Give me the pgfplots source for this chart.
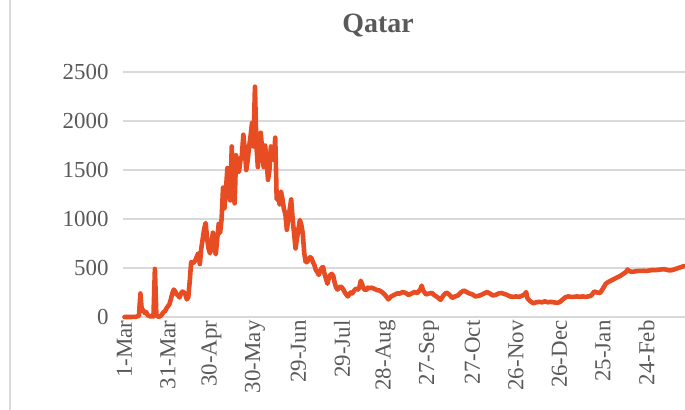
\documentclass[border=0pt]{standalone}
\usepackage{fontspec}
\setmainfont{Liberation Serif}
\usepackage{pgfplots}
\pgfplotsset{compat=1.18}
\usepackage{pgfplotstable}
\definecolor{txtc}{HTML}{595959}
\definecolor{gridc}{HTML}{D9D9D9}
\definecolor{qline}{RGB}{232,76,34}
\pgfplotstableread{
day val
0 0
2 0
4 0
6 1
8 2
10 12
11 240
12 60
13 70
14 40
15 50
16 20
17 10
18 5
19 10
20 5
21 490
22 20
23 5
24 5
25 10
26 30
27 50
28 60
29 90
30 110
31 130
32 180
33 240
34 280
35 260
36 230
37 220
38 200
39 240
40 260
41 250
42 230
43 180
44 200
45 360
46 560
47 550
48 560
49 580
50 620
51 650
52 540
53 700
54 800
55 900
56 960
57 800
58 700
59 650
60 750
61 860
62 700
63 640
64 800
65 950
66 860
67 1000
68 1320
69 1110
70 1300
71 1520
72 1350
73 1190
74 1740
75 1300
76 1160
77 1650
78 1550
79 1480
80 1600
81 1650
82 1860
83 1700
84 1500
85 1600
86 1740
87 1850
88 1980
89 1740
90 2350
91 1750
92 1530
93 1700
94 1880
95 1700
96 1530
97 1750
98 1600
99 1400
100 1500
101 1740
102 1650
103 1600
104 1830
105 1200
106 1250
107 1150
108 1280
109 1200
110 1100
111 1050
112 890
113 1000
114 1100
115 1200
116 1000
117 850
118 700
119 800
120 900
121 990
122 940
123 850
124 650
125 560
126 560
127 590
128 610
129 600
130 560
131 530
132 480
133 460
134 430
135 470
136 500
137 510
138 440
139 390
140 340
141 400
142 430
143 440
144 420
145 350
146 300
147 280
148 300
149 310
150 300
151 280
152 250
153 230
154 210
155 230
156 250
157 240
158 260
159 280
160 290
161 280
162 300
163 370
164 330
165 290
166 275
167 280
168 300
169 290
170 300
172 290
174 275
176 270
178 250
180 220
182 180
184 210
186 225
188 240
190 240
192 255
194 245
196 225
198 240
200 255
202 245
204 280
205 320
206 270
208 230
210 240
212 245
214 220
216 200
218 175
220 220
222 250
224 230
226 195
228 210
230 220
232 250
234 270
236 255
238 240
240 230
242 210
244 215
246 225
248 240
250 255
252 240
254 220
256 225
258 240
260 245
262 235
264 225
266 210
268 205
270 210
272 205
274 215
276 230
277 255
278 190
280 160
282 140
284 150
286 155
288 150
290 160
292 150
294 155
296 150
298 145
300 150
302 175
304 200
306 210
308 205
310 205
312 210
314 205
316 210
318 205
320 210
322 220
324 260
326 250
328 245
330 290
332 340
334 360
336 375
338 390
340 405
342 420
344 440
346 460
347 485
348 470
350 460
352 465
354 470
356 470
358 472
360 470
362 475
364 480
366 478
368 482
370 485
372 488
374 482
376 475
378 480
380 490
382 500
384 510
386 520
}\qdata
\begin{document}
\begin{tikzpicture}
\begin{axis}[
  scale only axis,
  width=562bp, height=245bp,
  xmin=-1, xmax=386.6,
  ymin=0, ymax=2500,
  clip=false,
  axis line style={draw=none},
  major tick length=0pt,
  xtick style={draw=none}, ytick style={draw=none},
  ytick={0,500,...,2500},
  xtick={0,30,...,360},
  xticklabels={1-Mar,31-Mar,30-Apr,30-May,29-Jun,29-Jul,28-Aug,27-Sep,27-Oct,26-Nov,26-Dec,25-Jan,24-Feb},
  xmajorgrids=false,
  ymajorgrids=true,
  major grid style={draw=gridc, line width=1.5bp},
  /pgf/number format/1000 sep={},
  /pgf/number format/assume math mode=true,
  tick label style={font=\fontsize{23}{27}\selectfont, text=txtc},
  xticklabel style={rotate=90, anchor=east},
  yticklabel style={xshift=-11bp},
]
\addplot[qline, line width=4.6bp, line join=round, line cap=round, mark=none] table[x=day, y=val] {\qdata};
\end{axis}
\node[anchor=base, text=txtc, font=\fontsize{28}{32}\selectfont\bfseries] at (255bp,284bp) {Qatar};
\draw[gridc, line width=1.2bp] (-113bp,-93bp) -- (-113bp,317bp);
\pgfresetboundingbox
\path (-123bp,-93bp) rectangle (562bp,317bp);
\end{tikzpicture}
\end{document}
